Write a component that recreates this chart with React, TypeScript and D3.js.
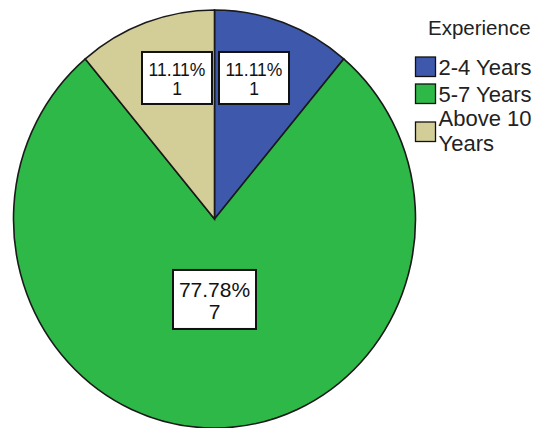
import React from "react";
import * as d3 from "d3";

const categories = ["2-4 Years", "5-7 Years", "Above 10 Years"];
const counts = [1, 7, 1];
const percents = ["11.11%", "77.78%", "11.11%"];
const legendTitle = "Experience";
const legendLines = [["2-4 Years"], ["5-7 Years"], ["Above 10", "Years"]];
const colors = ["#3E58AC", "#2EB848", "#D3CE97"];

export default function App() {
  const W = 547, H = 428;
  const cx = 214.5, cy = 219, rx = 201, ry = 209;
  const sy = ry / rx;
  const pie = d3.pie<number>().sort(null).startAngle(0).endAngle(2 * Math.PI);
  const arcs = pie(counts);
  const arc = d3.arc<d3.PieArcDatum<number>>().innerRadius(0).outerRadius(rx);

  const labels = arcs.map((a, i) => {
    const mid = (a.startAngle + a.endAngle) / 2;
    const big = a.endAngle - a.startAngle > Math.PI;
    const k = big ? 0.385 : 0.718;
    let x = cx + Math.sin(mid) * rx * k;
    const y = cy - Math.cos(mid) * ry * k;
    const bw = big ? 83 : 70;
    const bh = big ? 59 : 52;
    if (!big) {
      x = Math.sin(mid) > 0 ? cx + 4.5 + bw / 2 : cx - 2.5 - bw / 2;
    }
    return { x, y, bw, bh, big, i };
  });

  return (
    <svg width={W} height={H} style={{ position: "absolute", left: 0, top: 0, background: "#fff" }}>
      <rect x={0} y={0} width={W} height={H} fill="#fff" />
      <g transform={`translate(${cx},${cy}) scale(1,${sy})`}>
        {arcs.map((a, i) => (
          <path
            key={i}
            d={arc(a) || ""}
            fill={colors[i]}
            stroke="#1a1a1a"
            strokeWidth={1.6}
            vectorEffect="non-scaling-stroke"
          />
        ))}
      </g>
      {labels.map((l) => (
        <g key={l.i} fontFamily="Arial, 'Liberation Sans', sans-serif" fill="#111">
          <rect
            x={l.x - l.bw / 2}
            y={l.y - l.bh / 2}
            width={l.bw}
            height={l.bh}
            fill="#fff"
            stroke="#111"
            strokeWidth={2}
          />
          <text x={l.x} y={l.y - (l.big ? 2.5 : 2)} textAnchor="middle" fontSize={l.big ? 21 : 17.5}>
            {percents[l.i]}
          </text>
          <text x={l.x} y={l.y + (l.big ? 20 : 17)} textAnchor="middle" fontSize={l.big ? 21 : 17.5}>
            {counts[l.i]}
          </text>
        </g>
      ))}
      <g fontFamily="Arial, 'Liberation Sans', sans-serif" fill="#222">
        <text x={428} y={35} fontSize={20.5}>{legendTitle}</text>
        {legendLines.map((lines, i) => {
          const top = i < 2 ? 57 + i * 27 : 122;
          return (
            <g key={i}>
              <rect x={415.5} y={top} width={20} height={19.5} fill={colors[i]} stroke="#111" strokeWidth={1.3} />
              {lines.map((t, j) => (
                <text key={j} x={438.5} y={(i < 2 ? top + 18 : 126) + j * 25} fontSize={22}>
                  {t}
                </text>
              ))}
            </g>
          );
        })}
      </g>
    </svg>
  );
}
